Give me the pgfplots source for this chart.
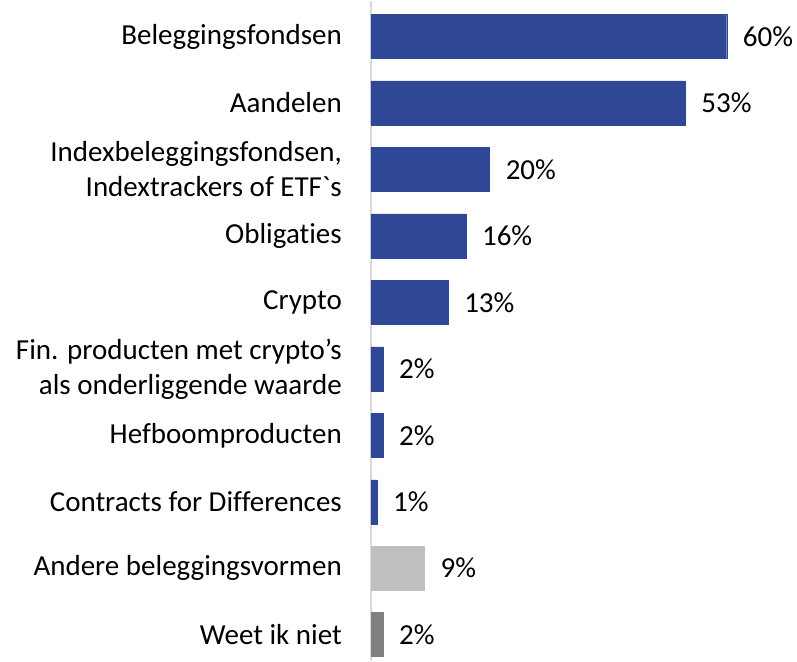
\documentclass[border=0pt]{standalone}
\usepackage{pgfplots}
\pgfplotsset{compat=1.18}
\usepackage{fontspec}
\setmainfont{Carlito}[Ligatures={TeXOff,NoCommon}]
\definecolor{barblue}{HTML}{2F4895}
\definecolor{lightgr}{HTML}{BFBFBF}
\definecolor{darkgr}{HTML}{808080}
\definecolor{axgr}{HTML}{D9D9D9}
\begin{document}
\begin{tikzpicture}
\begin{axis}[
  scale only axis,
  width=415pt, height=660pt,
  xbar, bar width=44pt, bar shift=0pt,
  xmin=0, xmax=70,
  ymin=-0.54, ymax=9.39,
  y dir=reverse,
  hide x axis,
  axis y line*=left,
  y axis line style={draw=axgr, line width=1.2pt, -},
  ytick={0,...,9},
  major tick length=0pt,
  yticklabels={Beleggingsfondsen,Aandelen,{Indexbeleggingsfondsen,\\Indextrackers of ETF`s},Obligaties,Crypto,{Fin. producten met crypto’s\\als onderliggende waarde},Hefboomproducten,Contracts for Differences,Andere beleggingsvormen,Weet ik niet},
  yticklabel style={align=right, font=\fontsize{29}{35}\selectfont, inner sep=0pt, xshift=-29pt},
  /pgf/number format/assume math mode=true,
  point meta=x,
  nodes near coords={\pgfmathprintnumber{\pgfplotspointmeta}\%},
  nodes near coords style={font=\fontsize{29}{35}\selectfont, anchor=west, inner sep=0pt, xshift=16pt, text=black},
]
\addplot[fill=barblue, draw=barblue] coordinates {(60,0) (53,1) (20,2) (16,3) (13,4) (2,5) (2,6) (1,7)};
\addplot[fill=lightgr, draw=lightgr] coordinates {(9,8)};
\addplot[fill=darkgr, draw=darkgr] coordinates {(2,9)};
\end{axis}
\path[use as bounding box] (current axis.south west) ++(-371pt,0) rectangle ++(797pt,660pt);
\end{tikzpicture}
\end{document}
